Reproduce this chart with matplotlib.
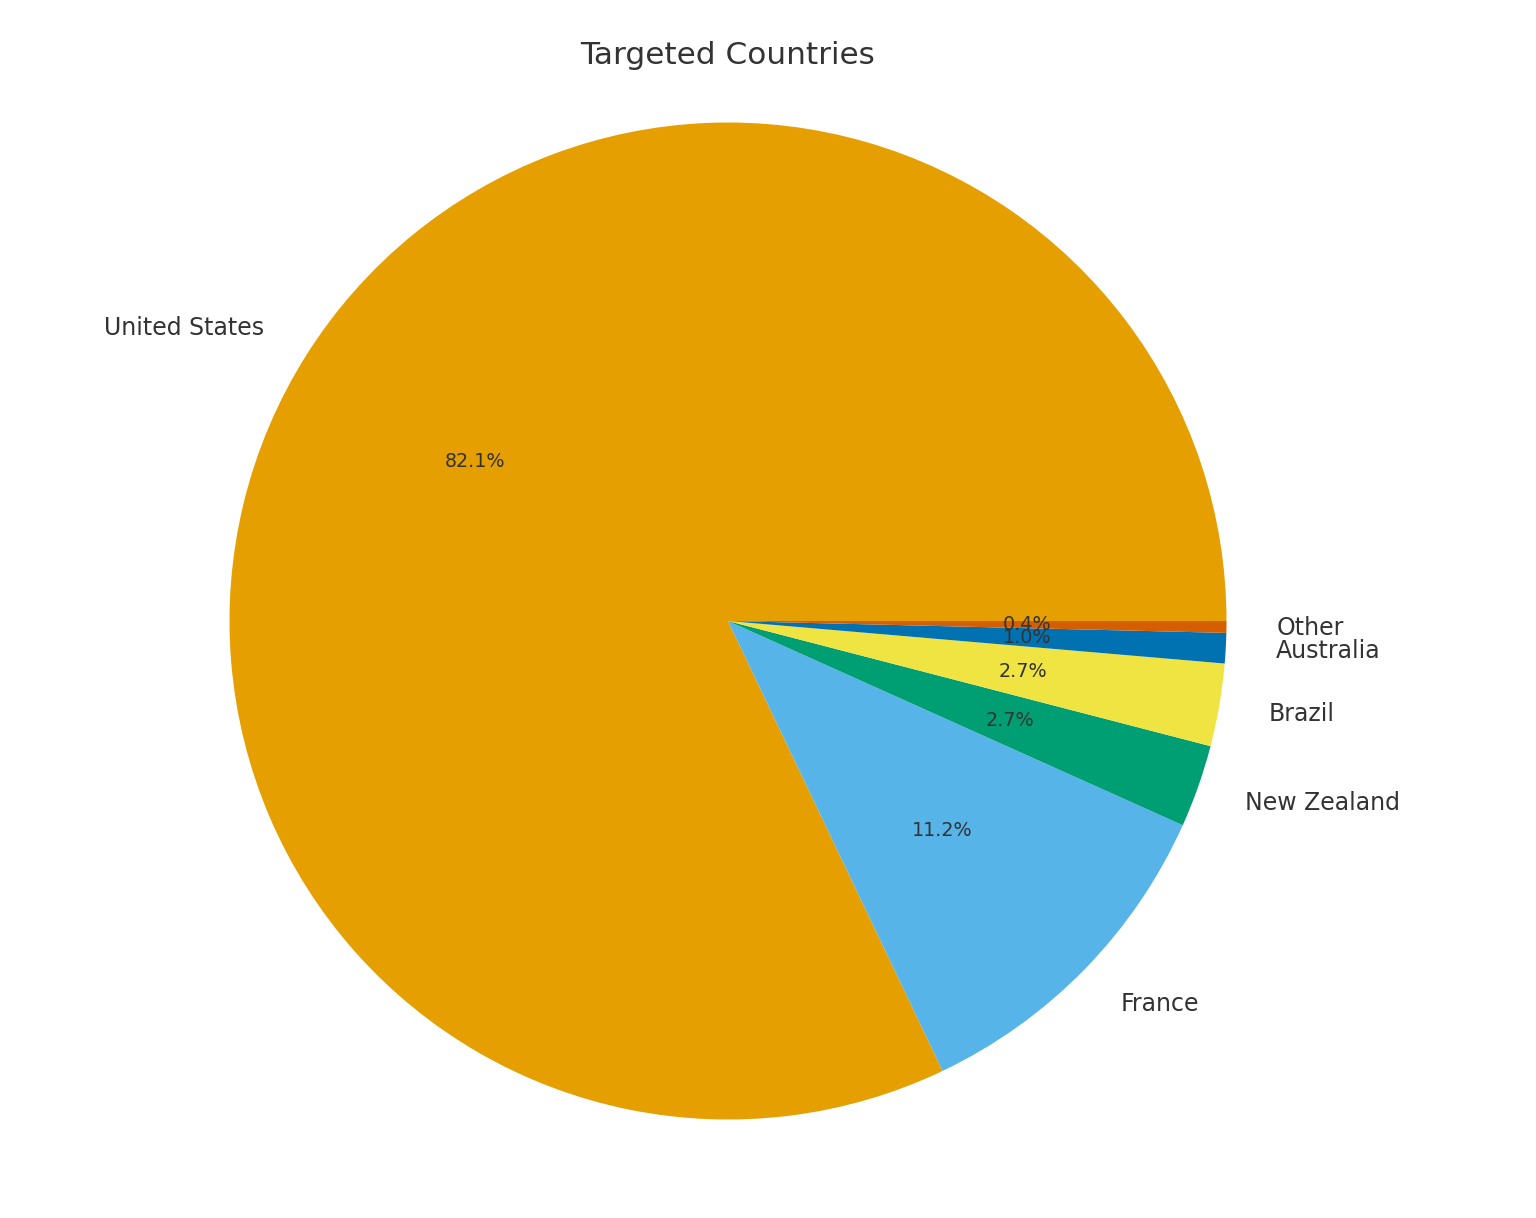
import matplotlib
matplotlib.use("Agg")
import matplotlib.pyplot as plt

# Données (parts en %)
pays = ["United States", "France", "New Zealand", "Brazil", "Australia", "Other"]
parts = [82.1, 11.2, 2.68, 2.68, 0.98, 0.38]
couleurs = ["#E69F00", "#56B4E9", "#009E73", "#F0E442", "#0072B2", "#D55E00"]

plt.rcParams["text.color"] = "#333333"

fig = plt.figure(figsize=(15.36, 12.18), dpi=100)

# axe carré : rayon du camembert ~498 px, centre (728, 621)
r_px = 498.5
a = 1.2
cote = 2 * a * r_px
cx, cy = 728, 1218 - 621
ax = fig.add_axes([(cx - cote / 2) / 1536, (cy - cote / 2) / 1218, cote / 1536, cote / 1218])

wedges, textes, pct = ax.pie(parts, labels=pays, colors=couleurs, autopct="%1.1f%%",
                             startangle=0, textprops={"fontsize": 17, "color": "#333333"})
for t in pct:
    t.set_fontsize(13.8)

ax.set_xlim(-a, a)
ax.set_ylim(-a, a)
ax.set_aspect("equal")
ax.axis("off")

fig.text(cx / 1536, 1 - 56 / 1218, "Targeted Countries", ha="center", va="center",
         fontsize=22.4, color="#333333")

fig.savefig("out.png", dpi=100)
